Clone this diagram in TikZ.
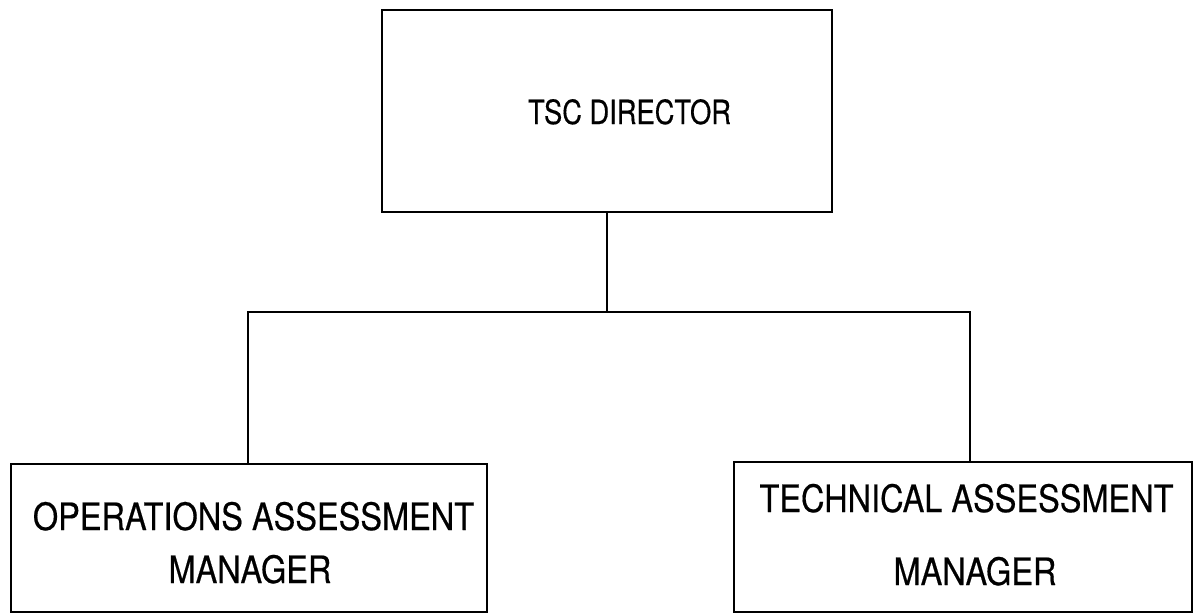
\documentclass[tikz,border=0pt]{standalone}
\usepackage{fontspec}
\setmainfont{TeX Gyre Heros}
\newfontfamily\heavyish[FakeBold=0.5]{TeX Gyre Heros}
\begin{document}
\begin{tikzpicture}[x=1pt,y=-1pt,
  box/.style={draw=black, line width=2pt, inner sep=0pt, fill=none},
  link/.style={draw=black, line width=1.6pt},
  toptext/.style={anchor=base, inner sep=0pt, font=\heavyish\fontsize{27.3}{32}\selectfont, yscale=1.22, transform shape},
  lowtext/.style={anchor=base, inner sep=0pt, font=\heavyish\fontsize{32.5}{39}\selectfont, yscale=1.16, transform shape}]
\useasboundingbox (0,0) rectangle (1194,614);
% boxes
\node[box, minimum width=450pt, minimum height=202pt] (tsc) at (607,111) {};
\node[box, minimum width=476pt, minimum height=148pt] (ops) at (249,538) {};
\node[box, minimum width=458pt, minimum height=150pt] (tech) at (963,537) {};
% texts
\node[toptext] (tsct) at (629.5,124) {TSC DIRECTOR};
\node[lowtext] (opst1) at (253.5,530) {OPERATIONS ASSESSMENT};
\node[lowtext] (opst2) at (250,583) {MANAGER};
\node[lowtext] (techt1) at (966.5,512) {TECHNICAL ASSESSMENT};
\node[lowtext] (techt2) at (975,585) {MANAGER};
% connectors
\coordinate (lc) at (248,312);
\coordinate (rc) at (970,312);
\draw[link] (tsc.south) -- (tsc.south |- lc);
\draw[link] (lc |- ops.north) -- (lc) -- (rc) -- (rc |- tech.north);
\end{tikzpicture}
\end{document}
